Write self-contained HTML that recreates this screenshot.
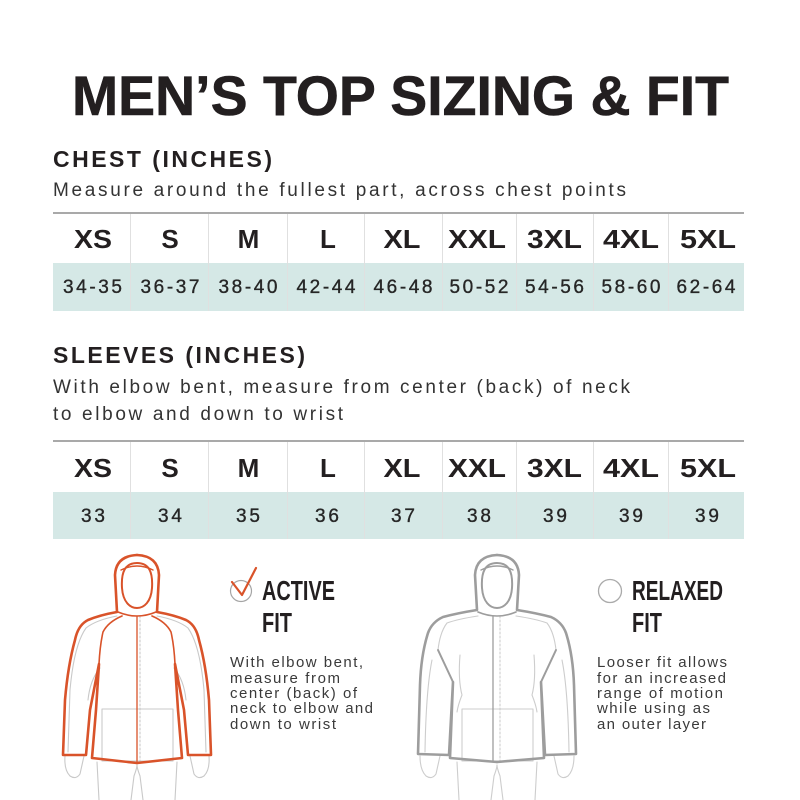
<!DOCTYPE html>
<html>
<head>
<meta charset="utf-8">
<style>
html,body{margin:0;padding:0;background:#fff;}
svg{display:block;}
text{font-family:"Liberation Sans",sans-serif;}
</style>
</head>
<body>
<svg width="800" height="800" viewBox="0 0 800 800" xmlns="http://www.w3.org/2000/svg">
<rect width="800" height="800" fill="#fff"/>

<!-- Title -->
<text x="72" y="115" font-size="56" font-weight="bold" fill="#231f20" stroke="#231f20" stroke-width="0.6" textLength="657" lengthAdjust="spacingAndGlyphs">MEN’S TOP SIZING &amp; FIT</text>

<!-- Chest -->
<text x="53" y="167" font-size="23" font-weight="bold" fill="#231f20" textLength="219" lengthAdjust="spacing">CHEST (INCHES)</text>
<text x="53" y="196" font-size="19" fill="#333" textLength="573" lengthAdjust="spacing">Measure around the fullest part, across chest points</text>

<g>
<rect x="53" y="263" width="691" height="48" fill="#d5e8e6"/>
<line x1="53" y1="213" x2="744" y2="213" stroke="#a9a9a9" stroke-width="2"/>
<g stroke="#e0e0e0" stroke-width="1">
<line x1="130.5" y1="214" x2="130.5" y2="311"/>
<line x1="208.5" y1="214" x2="208.5" y2="311"/>
<line x1="287.5" y1="214" x2="287.5" y2="311"/>
<line x1="364.5" y1="214" x2="364.5" y2="311"/>
<line x1="442.5" y1="214" x2="442.5" y2="311"/>
<line x1="516.5" y1="214" x2="516.5" y2="311"/>
<line x1="593.5" y1="214" x2="593.5" y2="311"/>
<line x1="668.5" y1="214" x2="668.5" y2="311"/>
</g>
<g font-size="26" font-weight="bold" fill="#231f20" text-anchor="middle">
<text x="93" y="248" textLength="38" lengthAdjust="spacingAndGlyphs">XS</text>
<text x="170" y="248">S</text>
<text x="248.5" y="248">M</text>
<text x="328" y="248">L</text>
<text x="402" y="248" textLength="37" lengthAdjust="spacingAndGlyphs">XL</text>
<text x="477" y="248" textLength="58" lengthAdjust="spacingAndGlyphs">XXL</text>
<text x="554.5" y="248" textLength="55" lengthAdjust="spacingAndGlyphs">3XL</text>
<text x="631" y="248" textLength="56" lengthAdjust="spacingAndGlyphs">4XL</text>
<text x="708" y="248" textLength="56" lengthAdjust="spacingAndGlyphs">5XL</text>
</g>
<g font-size="19" fill="#262626" stroke="#262626" stroke-width="0.35" text-anchor="middle">
<text x="92.5" y="293" textLength="59" lengthAdjust="spacing">34-35</text>
<text x="170" y="293" textLength="59" lengthAdjust="spacing">36-37</text>
<text x="248" y="293" textLength="59" lengthAdjust="spacing">38-40</text>
<text x="326" y="293" textLength="59" lengthAdjust="spacing">42-44</text>
<text x="403" y="293" textLength="59" lengthAdjust="spacing">46-48</text>
<text x="479" y="293" textLength="59" lengthAdjust="spacing">50-52</text>
<text x="554.5" y="293" textLength="59" lengthAdjust="spacing">54-56</text>
<text x="631" y="293" textLength="59" lengthAdjust="spacing">58-60</text>
<text x="706" y="293" textLength="59" lengthAdjust="spacing">62-64</text>
</g>
</g>

<!-- Sleeves -->
<text x="53" y="363" font-size="23" font-weight="bold" fill="#231f20" textLength="252" lengthAdjust="spacing">SLEEVES (INCHES)</text>
<text x="53" y="393" font-size="19" fill="#333" textLength="577" lengthAdjust="spacing">With elbow bent, measure from center (back) of neck</text>
<text x="53" y="420" font-size="19" fill="#333" textLength="290" lengthAdjust="spacing">to elbow and down to wrist</text>

<g>
<rect x="53" y="492" width="691" height="47" fill="#d5e8e6"/>
<line x1="53" y1="441" x2="744" y2="441" stroke="#a9a9a9" stroke-width="2"/>
<g stroke="#e0e0e0" stroke-width="1">
<line x1="130.5" y1="442" x2="130.5" y2="539"/>
<line x1="208.5" y1="442" x2="208.5" y2="539"/>
<line x1="287.5" y1="442" x2="287.5" y2="539"/>
<line x1="364.5" y1="442" x2="364.5" y2="539"/>
<line x1="442.5" y1="442" x2="442.5" y2="539"/>
<line x1="516.5" y1="442" x2="516.5" y2="539"/>
<line x1="593.5" y1="442" x2="593.5" y2="539"/>
<line x1="668.5" y1="442" x2="668.5" y2="539"/>
</g>
<g font-size="26" font-weight="bold" fill="#231f20" text-anchor="middle">
<text x="93" y="477" textLength="38" lengthAdjust="spacingAndGlyphs">XS</text>
<text x="170" y="477">S</text>
<text x="248.5" y="477">M</text>
<text x="328" y="477">L</text>
<text x="402" y="477" textLength="37" lengthAdjust="spacingAndGlyphs">XL</text>
<text x="477" y="477" textLength="58" lengthAdjust="spacingAndGlyphs">XXL</text>
<text x="554.5" y="477" textLength="55" lengthAdjust="spacingAndGlyphs">3XL</text>
<text x="631" y="477" textLength="56" lengthAdjust="spacingAndGlyphs">4XL</text>
<text x="708" y="477" textLength="56" lengthAdjust="spacingAndGlyphs">5XL</text>
</g>
<g font-size="19" fill="#262626" stroke="#262626" stroke-width="0.35" text-anchor="middle">
<text x="93" y="522" textLength="24" lengthAdjust="spacing">33</text>
<text x="170" y="522" textLength="24" lengthAdjust="spacing">34</text>
<text x="248" y="522" textLength="24" lengthAdjust="spacing">35</text>
<text x="327" y="522" textLength="24" lengthAdjust="spacing">36</text>
<text x="403" y="522" textLength="24" lengthAdjust="spacing">37</text>
<text x="479" y="522" textLength="24" lengthAdjust="spacing">38</text>
<text x="555" y="522" textLength="24" lengthAdjust="spacing">39</text>
<text x="631" y="522" textLength="24" lengthAdjust="spacing">39</text>
<text x="707" y="522" textLength="24" lengthAdjust="spacing">39</text>
</g>
</g>

<!-- ACTIVE jacket -->
<g fill="none" stroke-linejoin="round" stroke-linecap="round">
  <g stroke="#c9c9c9" stroke-width="1.1">
    <g id="actHalfGray">
      <path d="M117,616 Q96,620 86,628 Q74,645 70,690 L68,752"/>
      <path d="M88,700 Q90,680 100,668"/>
      <path d="M65,756 Q64,770 70,776 Q76,780 80,774 L84,756"/>
      <path d="M97,762 L99,800"/>
      <path d="M131,800 L134,776 Q137,768 137,765"/>
    </g>
    <use href="#actHalfGray" transform="translate(274,0) scale(-1,1)"/>
    <rect x="102" y="709" width="71" height="52"/>
    <line x1="140" y1="616" x2="140" y2="762" stroke-dasharray="2,2"/>
  </g>
  <g stroke="#d9532a">
    <g id="actHalf">
      <path stroke-width="2.6" d="M137,555 Q116,556 115,575 L117,612 Q100,615 88,620 Q78,625 75,640 Q68,665 65,700 L63,755 L86,755 L90,710 L99,664 L96,710 L92,758 L137,763"/>
      <path stroke-width="1.6" d="M122,616 Q108,622 103,632 Q100,645 99,664"/>
    </g>
    <use href="#actHalf" transform="translate(274,0) scale(-1,1)"/>
    <path stroke-width="2" d="M137,563 C125,563 121,572 122,588 C123,602 130,608 137,608 C144,608 151,602 152,588 C153,572 149,563 137,563 Z"/>
    <path stroke-width="1.4" d="M121,570 Q137,562 153,570"/>
    <path stroke-width="1.6" d="M118,612 Q137,620 156,612"/>
    <line stroke-width="1.3" x1="137" y1="616" x2="137" y2="763"/>
  </g>
</g>

<!-- RELAXED jacket -->
<g fill="none" stroke-linejoin="round" stroke-linecap="round">
  <g stroke="#cdcdcd" stroke-width="1.1">
    <g id="relHalfGray">
      <path d="M478,616 Q458,619 447,623 Q440,632 438,650"/>
      <path d="M432,660 Q426,690 425,752"/>
      <path d="M460,655 Q458,680 462,695 Q458,705 457,712"/>
      <path d="M420,756 Q420,770 426,776 Q432,780 436,774 L440,756"/>
      <path d="M457,762 L459,800"/>
      <path d="M491,800 L494,776 Q497,768 497,765"/>
    </g>
    <use href="#relHalfGray" transform="translate(994,0) scale(-1,1)"/>
    <rect x="462" y="709" width="71" height="52"/>
    <line x1="500" y1="616" x2="500" y2="762" stroke-dasharray="2,2"/>
  </g>
  <g stroke="#9d9d9d">
    <g id="relHalf">
      <path stroke-width="2.6" d="M497,555 Q476,556 475,575 L477,610 Q458,613 443,617 Q432,622 428,633 Q421,655 420,685 L418,754 L449,755 L453,682 L450,758 L497,762"/>
      <path stroke-width="2" d="M438,650 L453,682"/>
    </g>
    <use href="#relHalf" transform="translate(994,0) scale(-1,1)"/>
    <path stroke-width="2" d="M497,563 C485,563 481,572 482,588 C483,602 490,608 497,608 C504,608 511,602 512,588 C513,572 509,563 497,563 Z"/>
    <path stroke-width="1.4" d="M481,570 Q497,562 513,570"/>
    <path stroke-width="1.6" d="M478,612 Q497,620 516,612"/>
    <line stroke-width="1.3" x1="493" y1="616" x2="493" y2="762"/>
  </g>
</g>

<!-- ACTIVE FIT label -->
<circle cx="241" cy="591" r="10.5" fill="none" stroke="#a5a5a5" stroke-width="1.2"/>
<path d="M232,582 L242,595 L256,568" fill="none" stroke="#d9532a" stroke-width="2.2" stroke-linecap="round" stroke-linejoin="round"/>
<text x="262" y="600" font-size="27.5" font-weight="bold" fill="#231f20" textLength="73" lengthAdjust="spacingAndGlyphs">ACTIVE</text>
<text x="262" y="632" font-size="27.5" font-weight="bold" fill="#231f20" textLength="30" lengthAdjust="spacingAndGlyphs">FIT</text>
<g font-size="15" fill="#3a3a3a">
<text x="230" y="667" textLength="133" lengthAdjust="spacing">With elbow bent,</text>
<text x="230" y="683" textLength="110" lengthAdjust="spacing">measure from</text>
<text x="230" y="698" textLength="127" lengthAdjust="spacing">center (back) of</text>
<text x="230" y="713" textLength="143" lengthAdjust="spacing">neck to elbow and</text>
<text x="230" y="729" textLength="106" lengthAdjust="spacing">down to wrist</text>
</g>

<!-- RELAXED FIT label -->
<circle cx="610" cy="591" r="11.5" fill="none" stroke="#aaaaaa" stroke-width="1.3"/>
<text x="632" y="600" font-size="27.5" font-weight="bold" fill="#231f20" textLength="91" lengthAdjust="spacingAndGlyphs">RELAXED</text>
<text x="632" y="632" font-size="27.5" font-weight="bold" fill="#231f20" textLength="30" lengthAdjust="spacingAndGlyphs">FIT</text>
<g font-size="15" fill="#3a3a3a">
<text x="597" y="667" textLength="130" lengthAdjust="spacing">Looser fit allows</text>
<text x="597" y="683" textLength="129" lengthAdjust="spacing">for an increased</text>
<text x="597" y="698" textLength="126" lengthAdjust="spacing">range of motion</text>
<text x="597" y="713" textLength="113" lengthAdjust="spacing">while using as</text>
<text x="597" y="729" textLength="109" lengthAdjust="spacing">an outer layer</text>
</g>
</svg>
</body>
</html>
